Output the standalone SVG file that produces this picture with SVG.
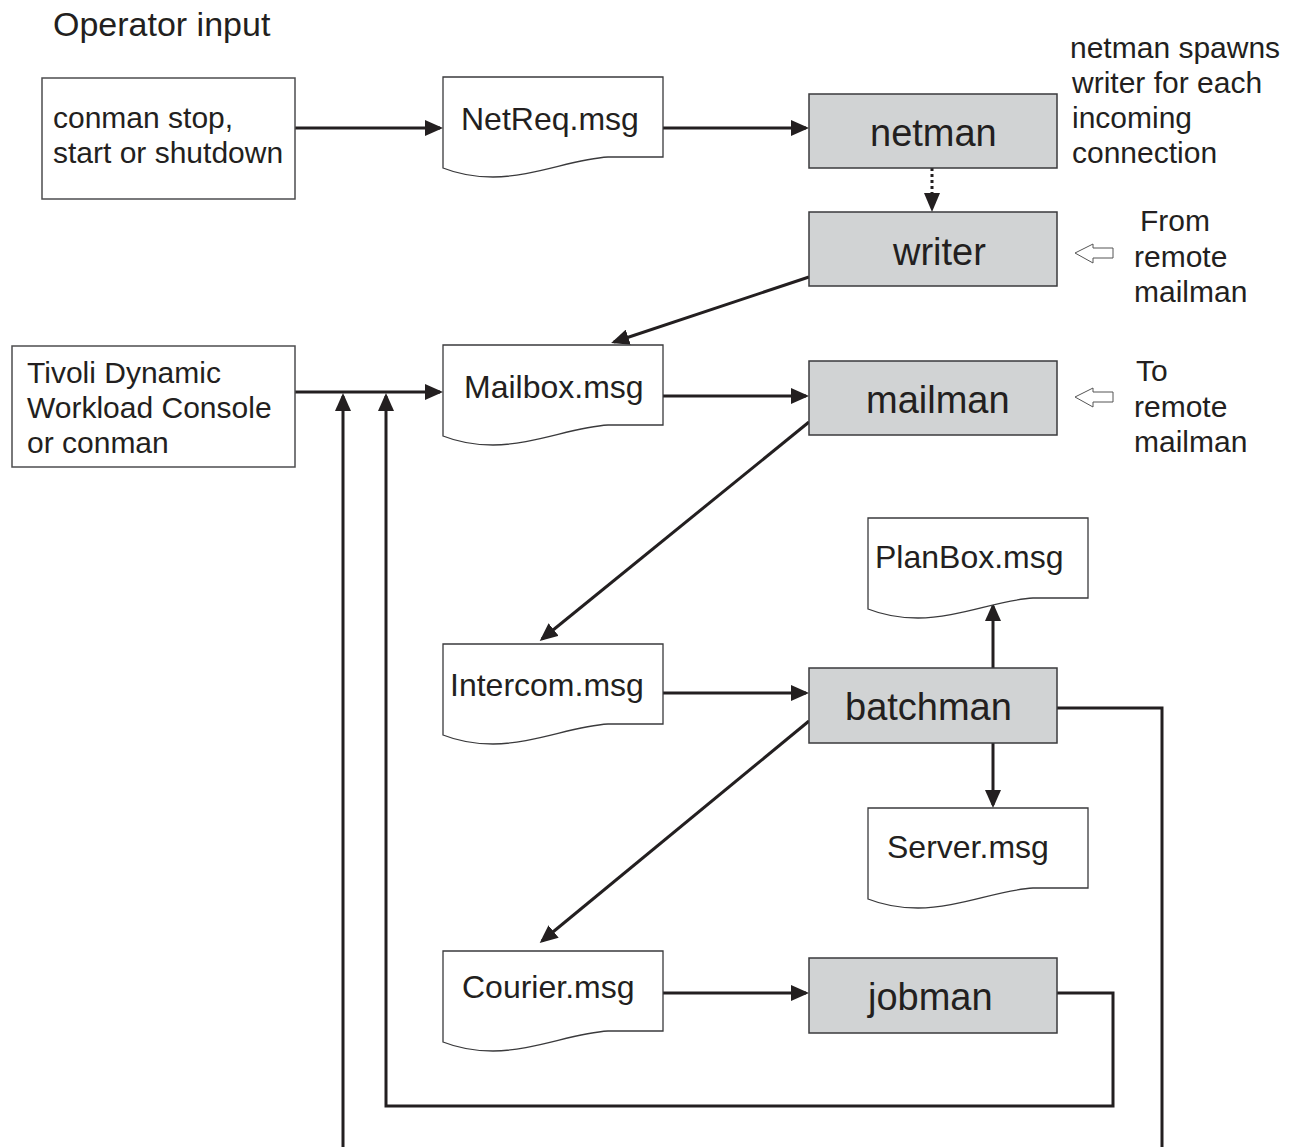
<svg xmlns="http://www.w3.org/2000/svg" xmlns:xlink="http://www.w3.org/1999/xlink" width="1298" height="1147" viewBox="0 0 1298 1147">
<style>
text{font-family:"Liberation Sans",Arial,Helvetica,sans-serif;fill:#231f20}
.t30{font-size:30px}
.t32{font-size:32px}
.t38{font-size:38px}
.box{fill:#fff;stroke:#4d4d4f;stroke-width:1.5}
.proc{fill:#d1d3d4;stroke:#3a3a3c;stroke-width:1.5}
.doc{fill:#fff;stroke:#3a3a3c;stroke-width:1.3}
.c{fill:none;stroke:#231f20;stroke-width:3}
.ca{fill:none;stroke:#231f20;stroke-width:3;marker-end:url(#ah)}
.hollow{fill:#fff;stroke:#555;stroke-width:1}
</style>
<defs>
<marker id="ah" markerUnits="userSpaceOnUse" markerWidth="18" markerHeight="16" refX="15" refY="8" orient="auto" viewBox="0 0 18 16">
<path d="M0,0 L18,8 L0,16 Z" fill="#231f20"/>
</marker>
<path id="docshape" d="M0,0 H220 V80 H165 C130,82 90,100 50,100 C30,100 15,97 0,91 Z"/>
</defs>
<rect width="1298" height="1147" fill="#fff"/>

<g id="connectors">
<path class="ca" d="M295,128 H440"/>
<path class="ca" d="M663,128 H806"/>
<path class="c" d="M932,168 V193" stroke-dasharray="3 3"/>
<path d="M924,193 L940,193 L932,212 Z" fill="#231f20"/>
<path class="ca" d="M809,277 L614,342"/>
<path class="ca" d="M295,392 H440"/>
<path class="ca" d="M663,396 H806"/>
<path class="ca" d="M809,422 L542,639"/>
<path class="ca" d="M663,693 H806"/>
<path class="ca" d="M993,668 V606"/>
<path class="ca" d="M993,743 V805"/>
<path class="ca" d="M809,721 L542,941"/>
<path class="ca" d="M663,993 H806"/>
<path class="c" d="M1057,708 H1162 V1150"/>
<path class="ca" d="M343,1150 V396"/>
<path class="ca" d="M1057,993 H1113 V1106 H386 V396"/>
<polygon class="hollow" points="1075,253 1093,244 1093,248 1113,248 1113,258 1093,258 1093,263"/>
<polygon class="hollow" points="1075,397 1093,388 1093,392 1113,392 1113,402 1093,402 1093,407"/>
</g>

<g id="label-operator"><text x="53" y="36" style="font-size:34px">Operator input</text></g>

<g id="node-conman">
<rect class="box" x="42" y="78" width="253" height="121"/>
<text class="t30" x="53" y="128">conman stop,</text>
<text class="t30" x="53" y="163">start or shutdown</text>
</g>

<g id="node-tivoli">
<rect class="box" x="12" y="346" width="283" height="121"/>
<text class="t30" x="27" y="383">Tivoli Dynamic</text>
<text class="t30" x="27" y="418">Workload Console</text>
<text class="t30" x="27" y="453">or conman</text>
</g>

<g id="node-netreq">
<use xlink:href="#docshape" class="doc" x="443" y="77"/>
<text class="t32" x="461" y="130">NetReq.msg</text>
</g>
<g id="node-mailbox">
<use xlink:href="#docshape" class="doc" x="443" y="345"/>
<text class="t32" x="464" y="398">Mailbox.msg</text>
</g>
<g id="node-intercom">
<use xlink:href="#docshape" class="doc" x="443" y="644"/>
<text class="t32" x="450" y="696">Intercom.msg</text>
</g>
<g id="node-courier">
<use xlink:href="#docshape" class="doc" x="443" y="951"/>
<text class="t32" x="462" y="998">Courier.msg</text>
</g>
<g id="node-planbox">
<use xlink:href="#docshape" class="doc" x="868" y="518"/>
<text class="t32" x="875" y="568">PlanBox.msg</text>
</g>
<g id="node-server">
<use xlink:href="#docshape" class="doc" x="868" y="808"/>
<text class="t32" x="887" y="858">Server.msg</text>
</g>

<g id="node-netman">
<rect class="proc" x="809" y="94" width="248" height="74"/>
<text class="t38" x="870" y="146">netman</text>
</g>
<g id="node-writer">
<rect class="proc" x="809" y="212" width="248" height="74"/>
<text class="t38" x="893" y="265">writer</text>
</g>
<g id="node-mailman">
<rect class="proc" x="809" y="361" width="248" height="74"/>
<text class="t38" x="866" y="413">mailman</text>
</g>
<g id="node-batchman">
<rect class="proc" x="809" y="668" width="248" height="75"/>
<text class="t38" x="845" y="720">batchman</text>
</g>
<g id="node-jobman">
<rect class="proc" x="809" y="958" width="248" height="75"/>
<text class="t38" x="868" y="1010">jobman</text>
</g>

<g id="label-spawns">
<text class="t30" x="1070" y="58">netman spawns</text>
<text class="t30" x="1072" y="93">writer for each</text>
<text class="t30" x="1072" y="128">incoming</text>
<text class="t30" x="1072" y="163">connection</text>
</g>
<g id="label-from">
<text class="t30" x="1140" y="231">From</text>
<text class="t30" x="1134" y="267">remote</text>
<text class="t30" x="1134" y="302">mailman</text>
</g>
<g id="label-to">
<text class="t30" x="1136" y="381">To</text>
<text class="t30" x="1134" y="417">remote</text>
<text class="t30" x="1134" y="452">mailman</text>
</g>
</svg>
